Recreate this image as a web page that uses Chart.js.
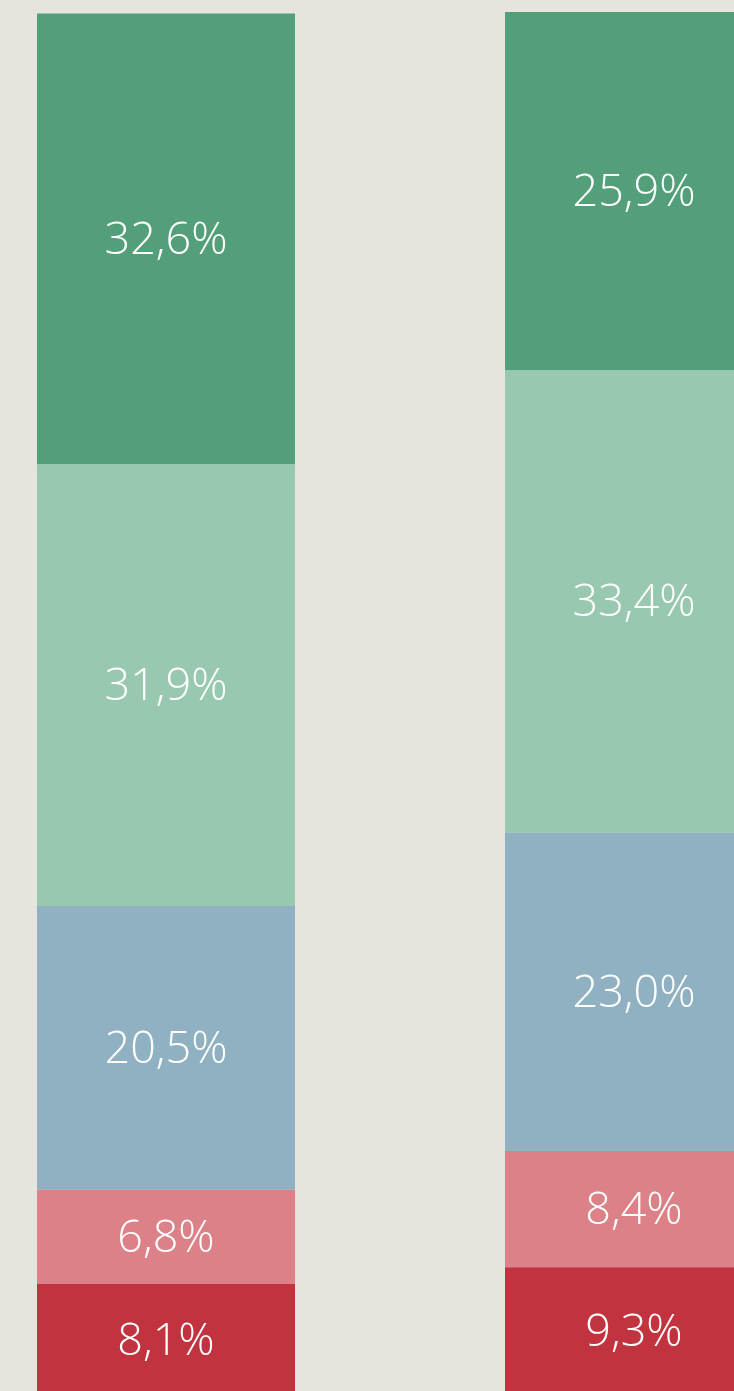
<!DOCTYPE html>
<html>
<head>
<meta charset="utf-8">
<script src="https://cdn.jsdelivr.net/npm/chart.js@4/dist/chart.umd.min.js"></script>
<style>
    html, body { margin: 0; padding: 0; background: #e5e5de; overflow: hidden; width: 734px; height: 1391px; }
    .wrap { position: absolute; left: -68px; top: 0; width: 936px; height: 1400px; }
</style>
</head>
<body>
<div class="wrap"><canvas id="chart"></canvas></div>
<script>
const CATEGORIES = ['Grupo 1', 'Grupo 2'];

// stacked bottom to top
const SERIES_NAMES = ['S1', 'S2', 'S3', 'S4', 'S5'];
const SERIES_VALUES = [
    [8.1, 9.3],
    [6.8, 8.4],
    [20.5, 23.0],
    [31.9, 33.4],
    [32.6, 25.9]
];
const SERIES_COLORS = ['#c0333f', '#dc8187', '#8fb1c2', '#98c8af', '#539f79'];

const Y_MAX = 100;

function fmt(v) { return v.toFixed(1).replace('.', ',') + '%'; }

const segmentLabels = {
    id: 'segmentLabels',
    afterDatasetsDraw(chart) {
        const ctx = chart.ctx;
        ctx.save();
        ctx.fillStyle = '#ffffff';
        ctx.font = '300 45px "Open Sans", sans-serif';
        ctx.textAlign = 'center';
        ctx.textBaseline = 'middle';
        chart.data.datasets.forEach((ds, di) => {
            chart.getDatasetMeta(di).data.forEach((bar, i) => {
                const mid = (bar.y + bar.base) / 2;
                ctx.fillText(fmt(ds.data[i]), bar.x, mid + 2);
            });
        });
        ctx.restore();
    }
};

new Chart(document.getElementById('chart'), {
    type: 'bar',
    data: {
        labels: CATEGORIES,
        datasets: SERIES_NAMES.map((name, i) => ({
            label: name,
            data: SERIES_VALUES[i],
            backgroundColor: SERIES_COLORS[i],
            borderWidth: 0,
            barPercentage: 258 / 468,
            categoryPercentage: 1
        }))
    },
    options: {
        responsive: true,
        maintainAspectRatio: false,
        animation: false,
        layout: { padding: { top: 12, bottom: 4, left: 0, right: 0 } },
        plugins: {
            legend: { display: false },
            tooltip: { enabled: false }
        },
        scales: {
            x: { stacked: true, display: false },
            y: { stacked: true, display: false, min: 0, max: Y_MAX }
        }
    },
    plugins: [segmentLabels]
});
</script>
</body>
</html>
